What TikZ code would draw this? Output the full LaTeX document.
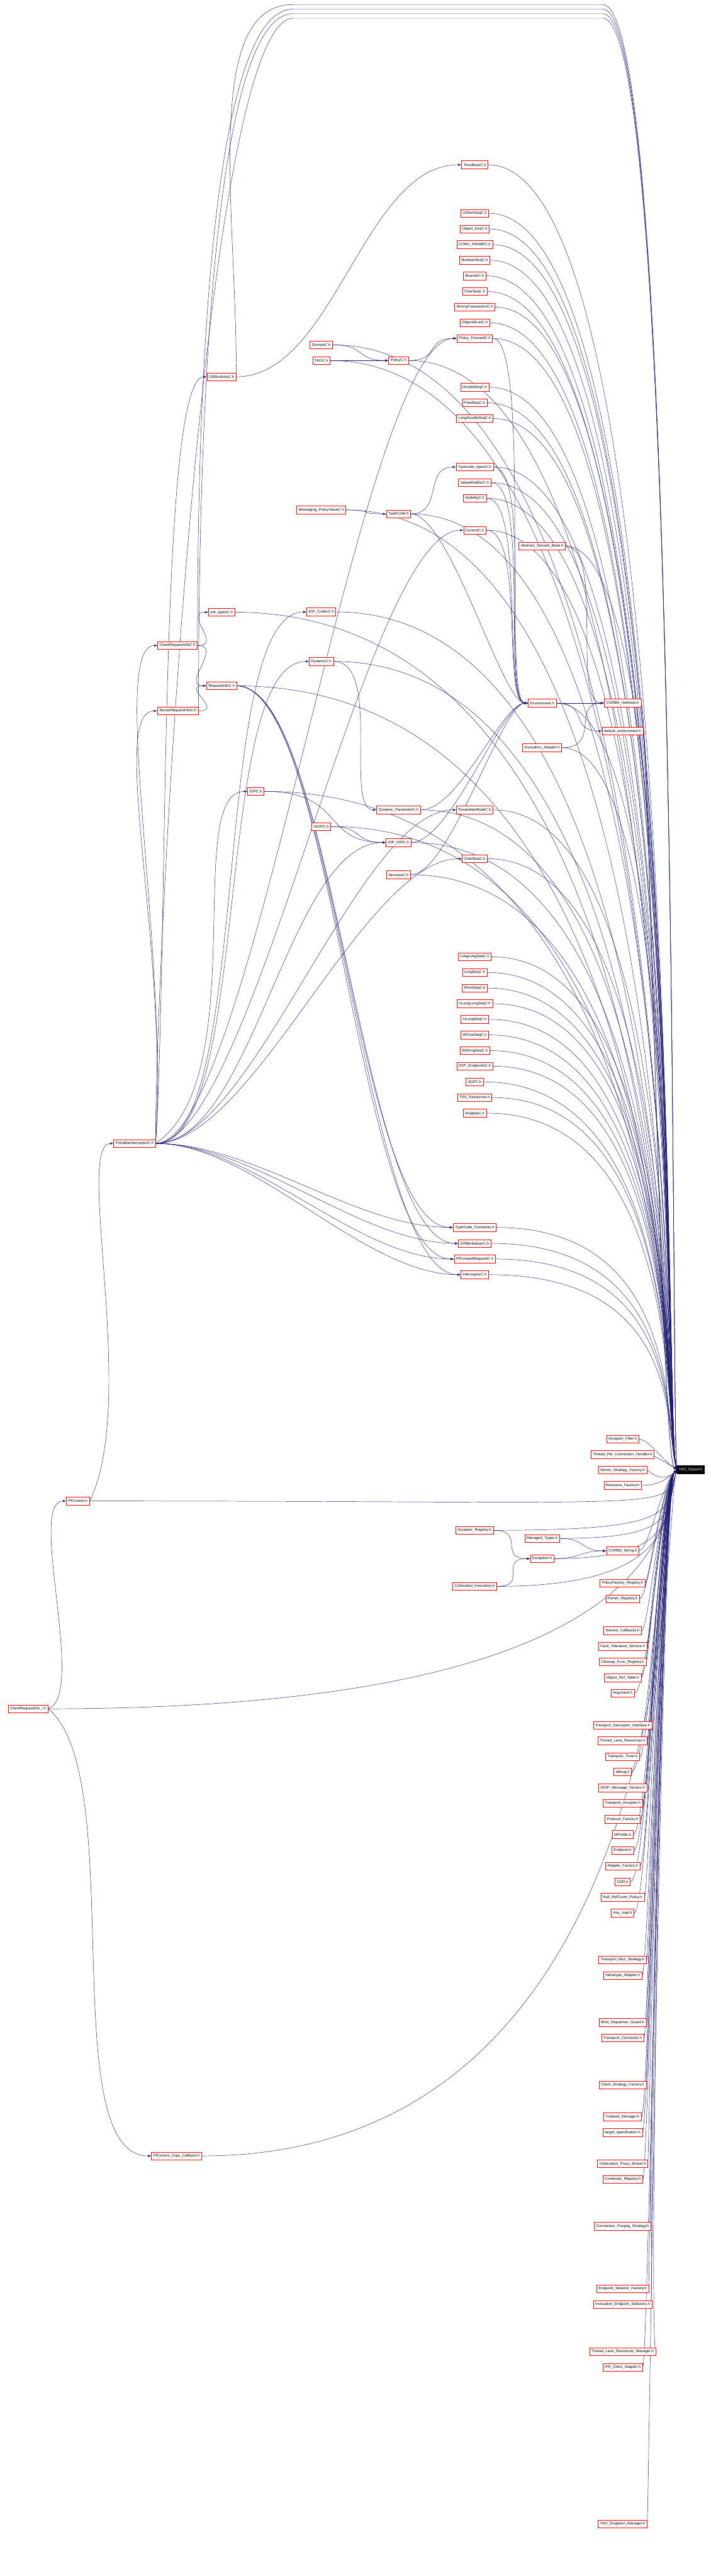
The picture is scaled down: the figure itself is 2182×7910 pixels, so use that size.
\documentclass[tikz,border=0pt]{standalone}
\usepackage{fontspec}
\setmainfont{Liberation Sans}
\usetikzlibrary{arrows.meta}
\definecolor{edgeblue}{HTML}{191970}
\definecolor{boxred}{HTML}{FF0000}
\pgfdeclarelayer{edges}
\pgfsetlayers{edges,main}

\begin{document}
\begin{tikzpicture}[x=1pt,y=-1pt,>={Latex[length=10pt,width=7pt]},
file/.style={draw=boxred,line width=1.2pt,fill=white,font=\fontsize{11.5}{12}\selectfont,inner xsep=6pt,inner ysep=0pt,minimum height=24pt},
rootfile/.style={file,draw=black,fill=black,text=white},
dep/.style={->,draw=edgeblue,line width=0.9pt}]
\useasboundingbox (0,0) rectangle (2182,7910);
\coordinate (farright) at (2095,0);
\coordinate (midright) at (1990,0);
% column of generated headers
\node[file] (timebase) at (1457,506) {TimeBaseC.h};
\node[file] (ushortseq) at (1457,655) {UShortSeqC.h};
\node[file] (objkey) at (1457,703) {Object\_KeyC.h};
\node[file] (convframe) at (1457,751) {CONV\_FRAMEC.h};
\node[file] (boolseq) at (1457,799) {BooleanSeqC.h};
\node[file] (bounds) at (1457,847) {BoundsC.h};
\node[file] (charseq) at (1457,895) {CharSeqC.h};
\node[file] (wrongtx) at (1457,943) {WrongTransactionC.h};
\node[file] (objidlist) at (1457,991) {ObjectIdListC.h};
\node[file] (polfwd) at (1457,1039) {Policy\_ForwardC.h};
\node[file] (doubleseq) at (1457,1189) {DoubleSeqC.h};
\node[file] (floatseq) at (1457,1237) {FloatSeqC.h};
\node[file] (ldoubleseq) at (1457,1285) {LongDoubleSeqC.h};
\node[file] (tctypes) at (1457,1434) {Typecode\_typesC.h};
\node[file] (valuemod) at (1457,1482) {ValueModifierC.h};
\node[file] (visibility) at (1457,1530) {VisibilityC.h};
\node[file] (current) at (1457,1628) {CurrentC.h};
\node[file] (parammode) at (1457,2487) {ParameterModeC.h};
\node[file] (octetseq) at (1457,2637) {OctetSeqC.h};
\node[file] (llongseq) at (1457,2938) {LongLongSeqC.h};
\node[file] (longseq) at (1457,2986) {LongSeqC.h};
\node[file] (shortseq) at (1457,3034) {ShortSeqC.h};
\node[file] (ullongseq) at (1457,3082) {ULongLongSeqC.h};
\node[file] (ulongseq) at (1457,3130) {ULongSeqC.h};
\node[file] (wcharseq) at (1457,3178) {WCharSeqC.h};
\node[file] (wstringseq) at (1457,3226) {WStringSeqC.h};
\node[file] (iiopendp) at (1457,3274) {IIOP\_EndpointsC.h};
\node[file] (iiopc) at (1457,3322) {IIOPC.h};
\node[file] (tss) at (1457,3370) {TSS\_Resources.h};
\node[file] (pollable) at (1457,3418) {PollableC.h};
\node[file] (tcconst) at (1457,3769) {TypeCode\_Constants.h};
\node[file] (orbinitzr) at (1457,3818) {ORBInitializerC.h};
\node[file] (pifwdreq) at (1457,3866) {PIForwardRequestC.h};
\node[file] (intercept) at (1457,3914) {InterceptorC.h};
\node[file] (acceptreg) at (1457,4699) {Acceptor\_Registry.h};
\node[file] (collocinv) at (1457,4871) {Collocated\_Invocation.h};
% next column
\node[file] (abstrserv) at (1664,1677) {Abstract\_Servant\_Base.h};
\node[file] (environ) at (1664,2159) {Environment.h};
\node[file] (invadapt) at (1664,2296) {Invocation\_Adapter.h};
\node[file] (managed) at (1664,4724) {Managed\_Types.h};
\node[file] (exception) at (1664,4786) {Exception.h};
% last column, next to the root
\node[file] (corbameth) at (1911,2159) {CORBA\_methods.h};
\node[file] (defenv) at (1911,2245) {default\_environment.h};
\node[file] (accfilter) at (1911,4419) {Acceptor\_Filter.h};
\node[file] (tpch) at (1911,4466) {Thread\_Per\_Connection\_Handler.h};
\node[file] (ssfact) at (1911,4514) {Server\_Strategy\_Factory.h};
\node[file] (resfact) at (1911,4561) {Resource\_Factory.h};
\node[file] (corbastr) at (1911,4762) {CORBA\_String.h};
\node[file] (pfreg) at (1911,4861) {PolicyFactory\_Registry.h};
\node[file] (parserreg) at (1911,4909) {Parser\_Registry.h};
\node[file] (servcb) at (1911,5007) {Service\_Callbacks.h};
\node[file] (ftserv) at (1911,5055) {Fault\_Tolerance\_Service.h};
\node[file] (cleanup) at (1911,5103) {Cleanup\_Func\_Registry.h};
\node[file] (objreftab) at (1911,5152) {Object\_Ref\_Table.h};
\node[file] (argument) at (1911,5199) {Argument.h};
\node[file] (tdi) at (1911,5298) {Transport\_Descriptor\_Interface.h};
\node[file] (tlr) at (1911,5345) {Thread\_Lane\_Resources.h};
\node[file] (ttimer) at (1911,5394) {Transport\_Timer.h};
\node[file] (debug) at (1911,5441) {debug.h};
\node[file] (giopver) at (1911,5490) {GIOP\_Message\_Version.h};
\node[file] (tacceptor) at (1911,5537) {Transport\_Acceptor.h};
\node[file] (protofact) at (1911,5586) {Protocol\_Factory.h};
\node[file] (mprofile) at (1911,5633) {MProfile.h};
\node[file] (endpoint) at (1911,5682) {Endpoint.h};
\node[file] (adaptfact) at (1911,5730) {Adapter\_Factory.h};
\node[file] (cdr) at (1911,5778) {CDR.h};
\node[file] (nullrc) at (1911,5826) {Null\_RefCount\_Policy.h};
\node[file] (anyimpl) at (1911,5874) {Any\_Impl.h};
\node[file] (tmux) at (1911,6018) {Transport\_Mux\_Strategy.h};
\node[file] (vtadapt) at (1911,6066) {Valuetype\_Adapter.h};
\node[file] (binddisp) at (1911,6210) {Bind\_Dispatcher\_Guard.h};
\node[file] (tconn) at (1911,6258) {Transport\_Connector.h};
\node[file] (clistrat) at (1911,6402) {Client\_Strategy\_Factory.h};
\node[file] (codeset) at (1911,6500) {Codeset\_Manager.h};
\node[file] (targetspec) at (1911,6548) {target\_specification.h};
\node[file] (colproxy) at (1911,6644) {Collocation\_Proxy\_Broker.h};
\node[file] (connreg) at (1911,6692) {Connector\_Registry.h};
\node[file] (connpurge) at (1911,6836) {Connection\_Purging\_Strategy.h};
\node[file] (epselfact) at (1911,7028) {Endpoint\_Selector\_Factory.h};
\node[file] (invepsel) at (1911,7076) {Invocation\_Endpoint\_Selectors.h};
\node[file] (tlrmgr) at (1911,7221) {Thread\_Lane\_Resources\_Manager.h};
\node[file] (ifrclient) at (1911,7269) {IFR\_Client\_Adapter.h};
\node[file] (singleton) at (1911,7750) {TAO\_Singleton\_Manager.h};
% middle columns
\node[file] (domain) at (986,1059) {DomainC.h};
\node[file] (taoc) at (986,1107) {TAOC.h};
\node[file] (policy) at (1223,1107) {PolicyC.h};
\node[file] (msgpolval) at (986,1566) {Messaging\_PolicyValueC.h};
\node[file] (typecode) at (1223,1578) {TypeCode.h};
\node[file] (iopcodec) at (986,1879) {IOP\_CodecC.h};
\node[file] (dynamic) at (986,2031) {DynamicC.h};
\node[file] (dynparam) at (1223,2487) {Dynamic\_ParameterC.h};
\node[file] (giop) at (986,2538) {GIOPC.h};
\node[file] (iopior) at (1223,2587) {IOP\_IORC.h};
\node[file] (services) at (1223,2686) {ServicesC.h};
\node[file] (iop) at (785,2430) {IOPC.h};
\node[file] (orbinitinfo) at (680,1157) {ORBInitInfoC.h};
\node[file] (orbtypes) at (680,1880) {orb\_typesC.h};
\node[file] (clientri) at (545,1982) {ClientRequestInfoC.h};
\node[file] (reqinfo) at (680,2106) {RequestInfoC.h};
\node[file] (serverri) at (546,2183) {ServerRequestInfoC.h};
% left side
\node[file] (pic) at (413,3511) {PortableInterceptorC.h};
\node[file] (picurrent) at (239,4609) {PICurrent.h};
\node[file] (crii) at (86,5247) {ClientRequestInfo\_i.h};
\node[file] (picopy) at (542,6620) {PICurrent\_Copy\_Callback.h};
% the included file
\node[rootfile] (root) at (2120,4513) {TAO\_Export.h};

\begin{pgfonlayer}{edges}
% edges into the root from above
\foreach \n in {timebase,ushortseq,objkey,convframe,boolseq,bounds,charseq,wrongtx,objidlist,polfwd,
  doubleseq,floatseq,ldoubleseq,tctypes,valuemod,visibility,current,parammode,octetseq,llongseq,longseq,
  shortseq,ullongseq,ulongseq,wcharseq,wstringseq,iiopendp,iiopc,tss,pollable,tcconst,orbinitzr,pifwdreq,
  intercept,abstrserv,environ,invadapt,domain,taoc,policy,msgpolval,typecode,iopcodec,dynamic,dynparam,
  giop,iopior,services,iop,orbtypes,reqinfo}
  \draw[dep] (\n.east) .. controls (\n.east -| farright) and (2040,4380) .. (root.west);
\foreach \n in {corbameth,defenv,accfilter,tpch}
  \draw[dep] (\n.east) .. controls (\n.east -| midright) and (2030,4480) .. (root.west);
% long edges routed over the top
\foreach \n/\h in {orbinitinfo/14,clientri/28,serverri/42,pic/56}
  \draw[dep] (\n.north east) .. controls +(0,-500) and (620,\h) .. (900,\h)
    -- (1850,\h) .. controls (2085,\h) and (2060,4300) .. (root.west);
% edges into the root from below
\foreach \n in {picurrent,crii,picopy,acceptreg,collocinv,managed,exception}
  \draw[dep] (\n.east) .. controls (\n.east -| farright) and (2040,4640) .. (root.west);
\foreach \n in {ssfact,resfact,corbastr,pfreg,parserreg,servcb,ftserv,cleanup,
  objreftab,argument,tdi,tlr,ttimer,debug,giopver,tacceptor,protofact,mprofile,endpoint,adaptfact,cdr,nullrc,
  anyimpl,tmux,vtadapt,binddisp,tconn,clistrat,codeset,targetspec,
  colproxy,connreg,connpurge,epselfact,invepsel,tlrmgr,ifrclient,singleton}
  \draw[dep] (\n.east) .. controls (\n.east -| midright) and (2030,4560) .. (root.west);

% inner dependencies
\draw[dep] (crii.east) .. controls +(120,-40) and +(-120,0) .. (picurrent.west);
\draw[dep] (crii.east) .. controls +(250,200) and +(-300,0) .. (picopy.west);
\draw[dep] (picurrent.east) .. controls +(150,-300) and +(-120,0) .. (pic.west);
\foreach \n in {clientri,serverri,orbinitinfo}
  \draw[dep] (pic.east) .. controls +(40,-600) and +(-150,0) .. (\n.west);
\draw[dep] (pic.east) .. controls +(300,-200) and +(-200,0) .. (iop.west);
\foreach \n in {tcconst,orbinitzr,pifwdreq,intercept,polfwd,current,octetseq,parammode,dynamic,iopcodec,iopior}
  \draw[dep] (pic.east) .. controls +(300,0) and +(-300,0) .. (\n.west);
\foreach \n in {reqinfo,orbtypes}
  \draw[dep] (clientri.east) .. controls +(80,0) and +(-80,0) .. (\n.west);
\draw[dep] (serverri.east) .. controls +(80,0) and +(-80,0) .. (reqinfo.west);
\draw[dep] (domain.east) .. controls +(100,0) and +(-100,0) .. (policy.west);
\draw[dep] (taoc.east) -- (policy.west);
\draw[dep] (msgpolval.east) .. controls +(100,0) and +(-100,0) .. (typecode.west);
\draw[dep] (giop.east) .. controls +(100,0) and +(-100,0) .. (iopior.west);
\draw[dep] (iop.east) .. controls +(250,0) and +(-200,0) .. (iopior.west);
\draw[dep] (dynamic.east) .. controls +(150,0) and +(-100,0) .. (dynparam.west);
\draw[dep] (policy.east) .. controls +(100,0) and +(-100,0) .. (polfwd.west);
\draw[dep] (typecode.east) .. controls +(100,0) and +(-100,0) .. (tctypes.west);
\draw[dep] (orbinitinfo.east) .. controls +(300,0) and +(-300,0) .. (timebase.west);
\foreach \n in {tcconst,orbinitzr,pifwdreq,intercept}
  \draw[dep] (reqinfo.east) .. controls +(300,0) and +(-300,0) .. (\n.west);
\foreach \n in {abstrserv,invadapt}
  \draw[dep] (\n.east) .. controls +(120,0) and +(-100,0) .. (corbameth.west);
\draw[dep] (environ.east) -- (corbameth.west);
\draw[dep] (environ.east) .. controls +(100,0) and +(-100,0) .. (defenv.west);
\foreach \n in {current,valuemod,visibility,polfwd,tctypes,typecode,dynparam,iopior,services}
  \draw[dep] (\n.east) .. controls +(120,0) and +(-80,0) .. (environ.west);
\draw[dep] (acceptreg.east) .. controls +(100,0) and +(-100,0) .. (exception.west);
\draw[dep] (collocinv.east) .. controls +(100,0) and +(-100,0) .. (exception.west);
\draw[dep] (managed.east) .. controls +(80,0) and +(-80,0) .. (corbastr.west);
\draw[dep] (exception.east) .. controls +(80,0) and +(-80,0) .. (corbastr.west);
\end{pgfonlayer}
\end{tikzpicture}
\end{document}
